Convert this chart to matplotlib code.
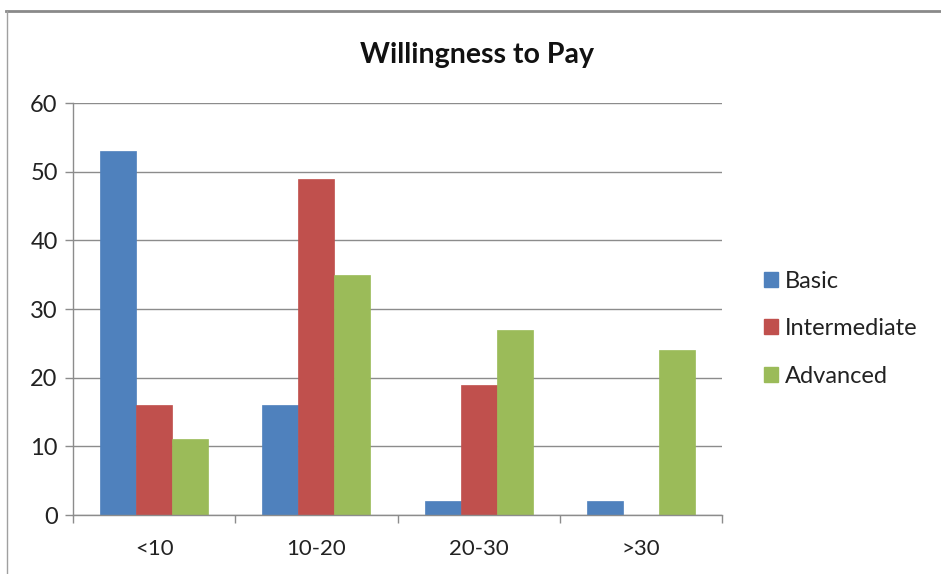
import matplotlib
matplotlib.use("Agg")
import matplotlib.pyplot as plt
import numpy as np
from matplotlib.lines import Line2D
from matplotlib.patches import Patch

plt.rcParams['font.family'] = ['Lato', 'DejaVu Sans']

categories = ["<10", "10-20", "20-30", ">30"]
series_names = ["Basic", "Intermediate", "Advanced"]
basic = [53, 16, 2, 2]
intermediate = [16, 49, 19, 0]
advanced = [11, 35, 27, 24]
colors = ["#4F81BD", "#C0504D", "#9BBB59"]
y_ticks = [0, 10, 20, 30, 40, 50, 60]

fig = plt.figure(figsize=(9.41, 5.74), dpi=100)
ax = fig.add_axes([73 / 941, 59 / 574, 649 / 941, 412 / 574])

x = np.arange(len(categories))
bar_w = 1 / 4.5
for i, (vals, col, name) in enumerate(zip([basic, intermediate, advanced], colors, series_names)):
    ax.bar(x + (i - 1) * bar_w, vals, width=bar_w, color=col, label=name,
           edgecolor=col, linewidth=0.5, zorder=3)

ax.set_xlim(-0.5, len(categories) - 0.5)
ax.set_ylim(0, 60)
ax.set_yticks(y_ticks)
ax.set_xticks(x)
ax.set_xticklabels(categories)
# category separators as minor ticks
ax.set_xticks(np.arange(-0.5, len(categories)), minor=True)
ax.tick_params(axis='x', which='major', length=0, pad=17, labelsize=16, colors='#222222')
ax.tick_params(axis='x', which='minor', length=6, width=1, color='#8c8c8c')
ax.tick_params(axis='y', length=6, width=1, color='#8c8c8c', pad=5, labelsize=17, labelcolor='#222222')

ax.grid(axis='y', color='#8c8c8c', linewidth=1, zorder=0)
for side in ['top', 'right']:
    ax.spines[side].set_visible(False)
for side in ['left', 'bottom']:
    ax.spines[side].set_color('#8c8c8c')
    ax.spines[side].set_linewidth(1)
    ax.spines[side].set_zorder(4)

fig.text(477 / 941, 1 - 55 / 574, "Willingness to Pay", ha='center', va='center',
         fontsize=20.5, fontweight='bold', color='#111111')

handles = [Patch(facecolor=c, edgecolor=c) for c in colors]
fig.legend(handles, series_names, loc='upper left', bbox_to_anchor=(752 / 941, 1 - 259 / 574),
           frameon=False, fontsize=17, handlelength=0.6, handleheight=0.6,
           handletextpad=0.3, labelspacing=1.12, borderpad=0, labelcolor='#222222')

# chart frame
fig.add_artist(Line2D([6 / 941, 1], [1 - 11 / 574] * 2, transform=fig.transFigure,
                      color='#8a8a8a', linewidth=2))
fig.add_artist(Line2D([7 / 941] * 2, [0, 1 - 11 / 574], transform=fig.transFigure,
                      color='#a0a0a0', linewidth=1))

fig.savefig("out.png", dpi=100)
